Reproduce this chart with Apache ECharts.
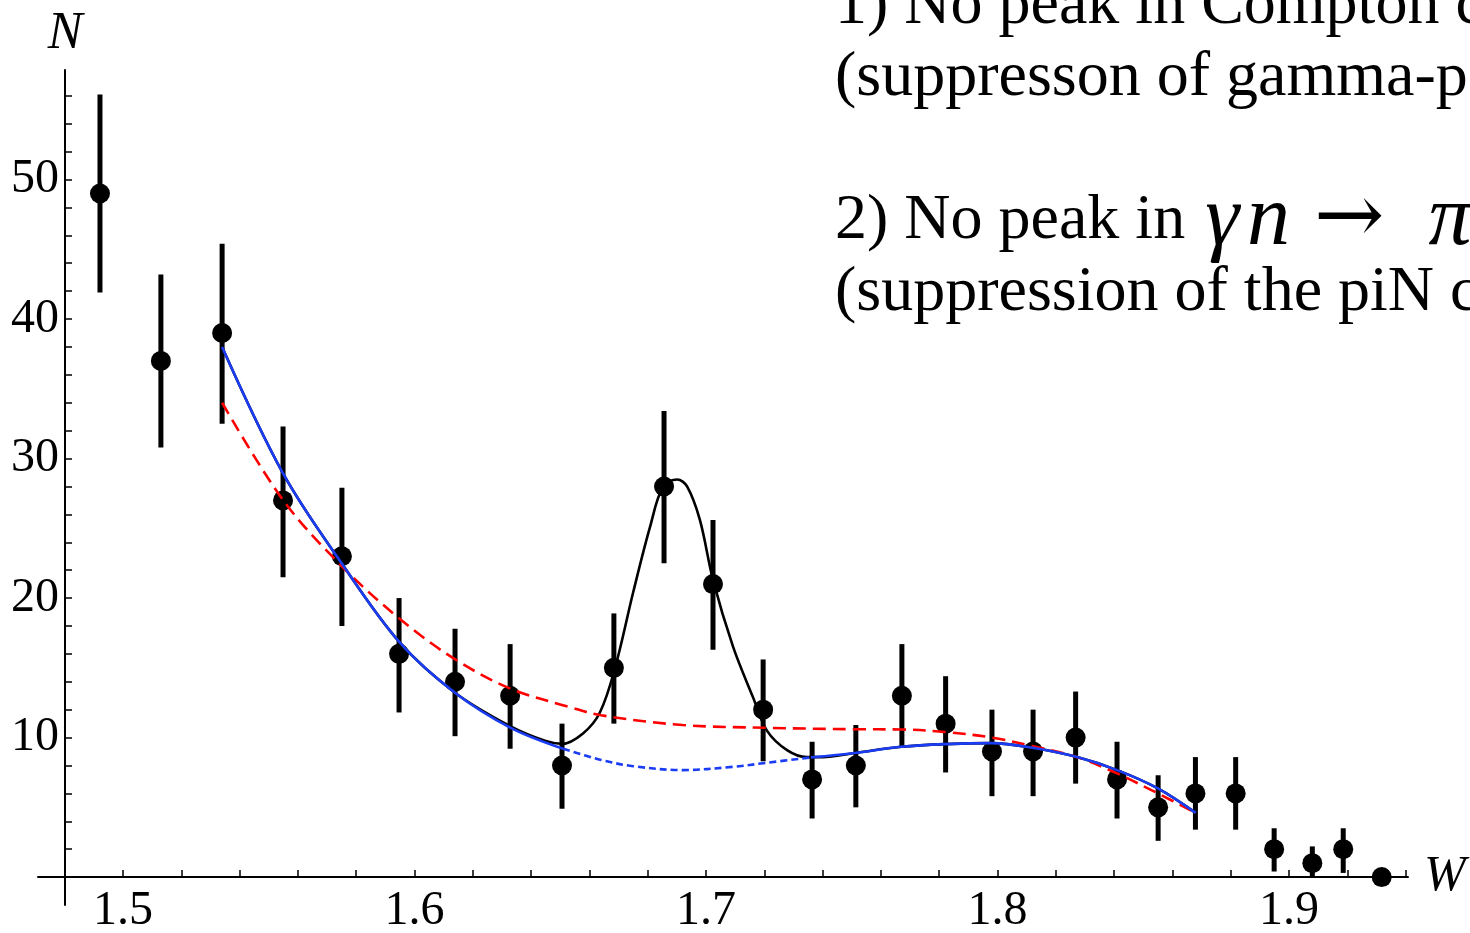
<!DOCTYPE html>
<html>
<head>
<meta charset="utf-8">
<script src="https://cdn.jsdelivr.net/npm/echarts@6/dist/echarts.min.js"></script>
<style>
html,body{margin:0;padding:0;background:#fff;}
#chart{width:1470px;height:933px;}
</style>
</head>
<body>
<div id="chart"></div>
<script>
// ---- data points (W, N) with error bars ----
const W = [1.4921, 1.5130, 1.5340, 1.5549, 1.5751, 1.5947, 1.6139, 1.6328, 1.6506, 1.6684, 1.6856, 1.7024, 1.7196, 1.7364, 1.7514, 1.7672, 1.7822, 1.7981, 1.8122, 1.8268, 1.8410, 1.8551, 1.8679, 1.8817, 1.8949, 1.9080, 1.9186, 1.9318];
const N = [49, 37, 39, 27, 23, 16, 14, 13, 8, 15, 28, 21, 12, 7, 8, 13, 11, 9, 9, 10, 7, 5, 6, 6, 2, 1, 2, 0];
const errLow  = [41.9, 30.8, 32.5, 21.5, 18.0, 11.8, 10.1, 9.2, 4.9, 11.0, 22.5, 16.3, 8.3, 4.2, 5.0, 9.3, 7.5, 5.8, 5.8, 6.7, 4.2, 2.6, 3.4, 3.4, 0.4, 0.0, 0.3, 0];
const errHigh = [56.1, 43.2, 45.4, 32.3, 27.9, 20.0, 17.8, 16.7, 11.0, 18.9, 33.4, 25.6, 15.6, 9.7, 10.9, 16.7, 14.4, 12.0, 12.0, 13.3, 9.7, 7.3, 8.6, 8.6, 3.5, 2.2, 3.5, 0];

// ---- fit curves ----
// background fit (blue): solid, dashed middle, solid
const blueAW = [1.534, 1.555, 1.575, 1.595, 1.614, 1.633, 1.651];
const blueAN = [38.0, 28.9, 22.5, 16.8, 13.2, 10.7, 9.2];
const blueDW = [1.651, 1.664, 1.675, 1.692, 1.709, 1.721, 1.736];
const blueDN = [9.2, 8.4, 7.95, 7.67, 7.9, 8.2, 8.58];
const blueBW = [1.736, 1.751, 1.767, 1.782, 1.798, 1.812, 1.827, 1.841, 1.855, 1.868];
const blueBN = [8.58, 8.9, 9.34, 9.53, 9.6, 9.27, 8.62, 7.67, 6.36, 4.6];
// fit without peak (red dashed)
const redW = [1.534, 1.555, 1.575, 1.595, 1.614, 1.633, 1.653, 1.664, 1.692, 1.721, 1.751, 1.767, 1.782, 1.798, 1.812, 1.827, 1.841, 1.855, 1.868];
const redN = [34.0, 27.0, 22.3, 18.5, 15.6, 13.5, 12.2, 11.6, 10.9, 10.7, 10.6, 10.58, 10.4, 10.0, 9.39, 8.62, 7.43, 6.0, 4.6];
// full fit with peak (black)
const blackW = [1.534, 1.555, 1.575, 1.595, 1.614, 1.633, 1.645, 1.6506, 1.6578, 1.6636, 1.6688, 1.6750, 1.6808, 1.6853, 1.6901, 1.6935, 1.6979, 1.7024, 1.7093, 1.7161, 1.7209, 1.7278, 1.7346, 1.740, 1.751, 1.767, 1.782, 1.798, 1.812, 1.827, 1.841, 1.855, 1.868];
const blackN = [38.0, 28.9, 22.5, 16.8, 13.2, 10.8, 9.75, 9.55, 10.3, 11.8, 15.0, 20.4, 25.1, 28.0, 28.5, 28.0, 25.6, 21.3, 16.5, 12.9, 10.5, 9.1, 8.6, 8.6, 8.9, 9.34, 9.53, 9.6, 9.27, 8.62, 7.67, 6.36, 4.6];

// ---- axis ticks / labels ----
const xTicks = [1.48, 1.50, 1.52, 1.54, 1.56, 1.58, 1.60, 1.62, 1.64, 1.66, 1.68, 1.70, 1.72, 1.74, 1.76, 1.78, 1.80, 1.82, 1.84, 1.86, 1.88, 1.90, 1.92, 1.94];
const xLabels = [1.5, 1.6, 1.7, 1.8, 1.9];
const yTicks = [2, 4, 6, 8, 10, 12, 14, 16, 18, 20, 22, 24, 26, 28, 30, 32, 34, 36, 38, 40, 42, 44, 46, 48, 50, 52, 54, 56];
const yLabels = [10, 20, 30, 40, 50];

const zip = (a, b) => a.map((v, i) => [v, b[i]]);
const SERIF = '"Liberation Serif", "Times New Roman", serif';

const chart = echarts.init(document.getElementById('chart'), null, {renderer: 'canvas'});

const curveBase = {type: 'line', showSymbol: false, symbol: 'none', smooth: 0.35, silent: true, animation: false};

chart.setOption({
  animation: false,
  backgroundColor: '#ffffff',
  grid: {left: 38, right: 62, top: 70, bottom: 28, containLabel: false, outerBoundsMode: 'none'},
  xAxis: {
    type: 'value', min: 1.47084, max: 1.94082,
    name: 'W', nameLocation: 'end', nameGap: 16,
    nameTextStyle: {fontFamily: SERIF, fontStyle: 'italic', fontSize: 50, color: '#000', verticalAlign: 'middle'},
    axisLine: {onZero: true, lineStyle: {color: '#000', width: 2}},
    axisTick: {show: true, inside: true, length: 7, customValues: xTicks, lineStyle: {color: '#000', width: 1.5}},
    axisLabel: {customValues: xLabels, margin: -18, fontFamily: SERIF, fontSize: 48, color: '#000',
      formatter: v => v.toFixed(1)},
    splitLine: {show: false}
  },
  yAxis: {
    type: 'value', min: -2, max: 57.85, offset: -27,
    name: 'N', nameLocation: 'end', nameGap: 10,
    nameTextStyle: {fontFamily: SERIF, fontStyle: 'italic', fontSize: 52, color: '#000', align: 'center'},
    axisLine: {onZero: false, lineStyle: {color: '#000', width: 2}},
    axisTick: {show: true, inside: true, length: 7, customValues: yTicks, lineStyle: {color: '#000', width: 1.5}},
    axisLabel: {customValues: yLabels, margin: 6, fontFamily: SERIF, fontSize: 48, color: '#000'},
    splitLine: {show: false}
  },
  graphic: [
    {type: 'text', x: 835, y: 6, silent: true, style: {text: '1) No peak in Compton c', font: '64px ' + SERIF, fill: '#000', verticalAlign: 'middle'}},
    {type: 'text', x: 835, y: 78, silent: true, style: {text: '(suppresson of gamma-p', font: '64px ' + SERIF, fill: '#000', verticalAlign: 'middle'}},
    {type: 'text', x: 835, y: 221, silent: true, style: {
      text: '2) No peak in {g|γ}{n|n}{a|→}{p|π}', font: '64px ' + SERIF, fill: '#000', verticalAlign: 'middle',
      rich: {
        g: {font: 'italic 86px ' + SERIF, fontFamily: SERIF, fontStyle: 'italic', fontSize: 86, fill: '#000', padding: [0, 0, 0, 4]},
        n: {font: 'italic 86px ' + SERIF, fontFamily: SERIF, fontStyle: 'italic', fontSize: 86, fill: '#000', padding: [0, 0, 0, 8]},
        a: {font: '84px "DejaVu Serif", serif', fontFamily: '"DejaVu Serif", serif', fontSize: 84, fill: '#000', padding: [0, 0, 0, 24]},
        p: {font: 'italic 86px ' + SERIF, fontFamily: SERIF, fontStyle: 'italic', fontSize: 86, fill: '#000', padding: [0, 0, 0, 44]}
      }}},
    {type: 'text', x: 835, y: 293, silent: true, style: {text: '(suppression of the piN c', font: '64px ' + SERIF, fill: '#000', verticalAlign: 'middle'}}
  ],
  series: [
    {
      type: 'custom', name: 'errors', silent: true, z: 2,
      data: W.map((w, i) => [w, errLow[i], errHigh[i]]),
      encode: {x: 0, y: [1, 2]},
      renderItem: function (params, api) {
        const lo = api.value(1), hi = api.value(2);
        if (hi <= lo) return null;
        const p1 = api.coord([api.value(0), lo]);
        const p2 = api.coord([api.value(0), hi]);
        return {type: 'line', shape: {x1: p1[0], y1: p1[1], x2: p2[0], y2: p2[1]},
          style: {stroke: '#000', lineWidth: 5}};
      }
    },
    {type: 'scatter', name: 'data', z: 3, silent: true, symbol: 'circle', symbolSize: 20,
      itemStyle: {color: '#000', opacity: 1}, data: zip(W, N)},
    Object.assign({}, curveBase, {name: 'full fit', z: 4, data: zip(blackW, blackN),
      lineStyle: {color: '#000', width: 2.6}}),
    Object.assign({}, curveBase, {name: 'no peak', z: 5, data: zip(redW, redN),
      lineStyle: {color: '#ff0000', width: 2.6, type: [13, 7]}}),
    Object.assign({}, curveBase, {name: 'bg A', z: 6, data: zip(blueAW, blueAN),
      lineStyle: {color: '#1a3cf5', width: 2.6}}),
    Object.assign({}, curveBase, {name: 'bg dashed', z: 6, data: zip(blueDW, blueDN),
      lineStyle: {color: '#1a3cf5', width: 2.6, type: [7, 4]}}),
    Object.assign({}, curveBase, {name: 'bg B', z: 6, data: zip(blueBW, blueBN),
      lineStyle: {color: '#1a3cf5', width: 2.6}})
  ]
});
</script>
</body>
</html>
